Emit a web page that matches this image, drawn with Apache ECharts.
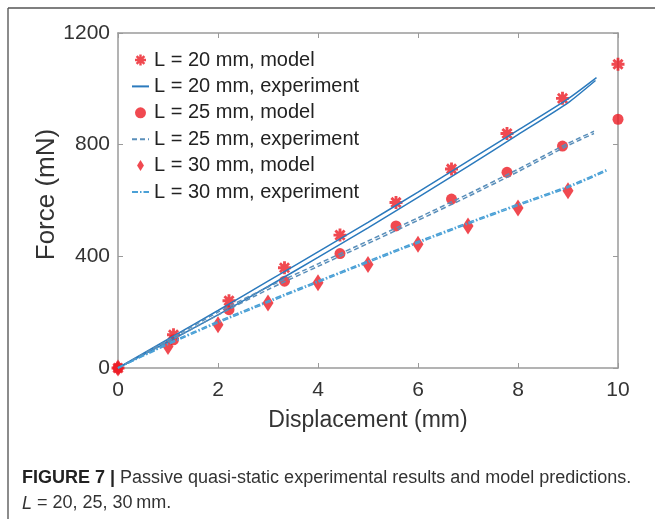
<!DOCTYPE html>
<html><head><meta charset="utf-8">
<script src="https://cdn.jsdelivr.net/npm/echarts@6/dist/echarts.min.js"></script>
<style>html,body{margin:0;padding:0;background:#fff}#c{width:655px;height:519px}</style>
</head><body><div id="c"></div>
<script>
// ---- data ----
const xTicks = [0, 2, 4, 6, 8, 10];
const yTicks = [0, 400, 800, 1200];
const modelX20 = [0, 1.11, 2.22, 3.33, 4.44, 5.56, 6.67, 7.78, 8.89, 10];
const model20  = [0, 119, 241, 359, 476, 593, 713, 840, 966, 1088];
const modelX25 = [0, 1.11, 2.22, 3.33, 4.44, 5.56, 6.67, 7.78, 8.89, 10];
const model25  = [0, 101, 209, 311, 410, 509, 605, 701, 795, 891];
const modelX30 = [0, 1, 2, 3, 4, 5, 6, 7, 8, 9];
const model30  = [0, 77, 155, 233, 305, 371, 443, 509, 573, 635];
const expX20a = [0, 1, 2, 3, 4, 5, 6, 7, 8, 9, 9.57];
const exp20a  = [0, 103, 206, 311, 416, 522, 630, 741, 852, 964, 1040];
const expX20b = [0, 1, 2, 3, 4, 5, 6, 7, 8, 9, 9.55];
const exp20b  = [0, 94, 190, 292, 396, 502, 611, 722, 836, 950, 1030];
const expX25 = [0, 1, 2, 3, 4, 5, 6, 7, 8, 9, 9.52];
const exp25a = [0, 100, 200, 290, 373, 455, 538, 623, 712, 805, 848];
const exp25b = [0, 94, 190, 281, 364, 446, 529, 614, 703, 797, 840];
const expX30 = [0, 1, 2, 3, 4, 5, 6, 7, 8, 9, 9.8];
const exp30a = [0, 88, 167, 240, 312, 383, 453, 521, 587, 651, 713];
const exp30b = [0, 84, 162, 235, 307, 378, 448, 516, 582, 646, 708];
const names = ['L = 20 mm, model', 'L = 20 mm, experiment', 'L = 25 mm, model',
               'L = 25 mm, experiment', 'L = 30 mm, model', 'L = 30 mm, experiment'];

const zip = (xs, ys) => xs.map((x, i) => [x, ys[i]]);
const RED = '#ec1c24';
const ASTER = 'path://M-10,-2.2L10,-2.2L10,2.2L-10,2.2Z M2.2,-10L2.2,10L-2.2,10L-2.2,-10Z ' +
  'M-5.5,-8.6L8.6,5.5L5.5,8.6L-8.6,-5.5Z M8.6,-5.5L-5.5,8.6L-8.6,5.5L5.5,-8.6Z';
const DIAM = 'path://M0,-8L5,0L0,8L-5,0Z';
const C20 = '#2b7abd', C25 = '#5a8fba', C30 = '#4aa0d6';
const FONT = 'Liberation Sans, Arial, sans-serif';

function lineS(name, xs, ys, color, type) {
  return { type: 'line', name, data: zip(xs, ys), symbol: 'none', smooth: 0.2, z: 3,
           lineStyle: { color, width: 1.5, type }, itemStyle: { color } };
}
function scat(name, xs, ys, symbol, size) {
  return { type: 'scatter', name, data: zip(xs, ys), symbol, symbolSize: size, z: 2,
           itemStyle: { color: RED } };
}
const axisCol = '#9a9a9a';
const labelStyle = { color: '#333', fontSize: 21, fontFamily: FONT };

const chart = echarts.init(document.getElementById('c'), null, { renderer: 'canvas' });
chart.setOption({
  backgroundColor: '#fff',
  animation: false,
  grid: { left: 118, right: 37, top: 33, bottom: 151 },
  title: {
    left: 17, top: 461,
    text: '{b|FIGURE 7 |} Passive quasi-static experimental results and model predictions.\n{i|L} = 20, 25, 30\u2009mm.',
    textStyle: {
      color: '#333', fontSize: 18, fontWeight: 'normal', lineHeight: 25, fontFamily: FONT,
      rich: {
        b: { fontWeight: 'bold', color: '#222', fontSize: 18, lineHeight: 25, fontFamily: FONT },
        i: { fontStyle: 'italic', color: '#333', fontSize: 18, lineHeight: 25, fontFamily: FONT }
      }
    }
  },
  legend: {
    orient: 'vertical', left: 126, top: 44, itemWidth: 17, itemHeight: 11, itemGap: 4.4,
    textStyle: { color: '#222', fontSize: 20, lineHeight: 22, fontFamily: FONT },
    data: names.map((n, i) => i % 2 === 1 ? { name: n, itemStyle: { opacity: 0 } } : { name: n })
  },
  xAxis: [
    { type: 'value', min: 0, max: 10, interval: 2, position: 'bottom',
      name: 'Displacement (mm)', nameLocation: 'middle', nameGap: 41, nameMoveOverlap: false,
      nameTextStyle: Object.assign({}, labelStyle, { fontSize: 23 }),
      axisLine: { onZero: false, lineStyle: { color: axisCol, width: 1.5 } },
      axisTick: { inside: true, length: 5, lineStyle: { color: axisCol } },
      axisLabel: Object.assign({ margin: 12, customValues: xTicks }, labelStyle),
      splitLine: { show: false } },
    { type: 'value', min: 0, max: 10, interval: 2, position: 'top',
      axisLine: { onZero: false, lineStyle: { color: axisCol, width: 1.5 } },
      axisTick: { inside: true, length: 5, lineStyle: { color: axisCol } },
      axisLabel: { show: false }, splitLine: { show: false } }
  ],
  yAxis: [
    { type: 'value', min: 0, max: 1200, interval: 400, position: 'left',
      name: 'Force (mN)', nameLocation: 'middle', nameGap: 58, nameMoveOverlap: false,
      nameTextStyle: Object.assign({}, labelStyle, { fontSize: 26, padding: [0, 0, 0, 12] }),
      axisLine: { show: true, onZero: false, lineStyle: { color: axisCol, width: 1.5 } },
      axisTick: { show: true, inside: true, length: 5, lineStyle: { color: axisCol } },
      axisLabel: Object.assign({ margin: 8, customValues: yTicks, formatter: v => String(v) }, labelStyle),
      splitLine: { show: false } },
    { type: 'value', min: 0, max: 1200, interval: 400, position: 'right',
      axisLine: { show: true, onZero: false, lineStyle: { color: axisCol, width: 1.5 } },
      axisTick: { show: true, inside: true, length: 5, lineStyle: { color: axisCol } },
      axisLabel: { show: false }, splitLine: { show: false } }
  ],
  graphic: [
    { type: 'line', shape: { x1: 8, y1: 8, x2: 8, y2: 519 }, style: { stroke: '#666', lineWidth: 1.5 } },
    { type: 'line', shape: { x1: 8, y1: 8, x2: 655, y2: 8 }, style: { stroke: '#555', lineWidth: 1.5 } }
  ],
  series: [
    scat(names[0], modelX20, model20, ASTER, 13),
    lineS(names[1], expX20a, exp20a, C20, 'solid'),
    lineS(names[1], expX20b, exp20b, C20, 'solid'),
    scat(names[2], modelX25, model25, 'circle', 11),
    lineS(names[3], expX25, exp25a, C25, [5, 3]),
    lineS(names[3], expX25, exp25b, C25, [5, 3]),
    scat(names[4], modelX30, model30, DIAM, [11, 17]),
    lineS(names[5], expX30, exp30a, C30, [6, 2, 1.5, 2]),
    lineS(names[5], expX30, exp30b, C30, [6, 2, 1.5, 2])
  ]
});
</script>
</body></html>
